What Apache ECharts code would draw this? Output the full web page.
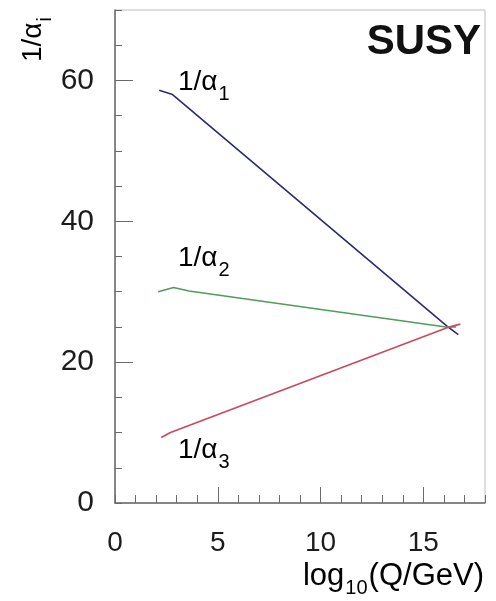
<!DOCTYPE html>
<html>
<head>
<meta charset="utf-8">
<script src="https://cdn.jsdelivr.net/npm/echarts@6/dist/echarts.min.js"></script>
<style>
  html, body { margin: 0; padding: 0; background: #fff; }
  #main { width: 496px; height: 601px; }
</style>
</head>
<body>
<div id="main"></div>
<script>
// values: [log10(Q/GeV), 1/alpha]
var alpha1 = [[2.15, 58.6], [2.8, 58.0], [16.15, 25.1], [16.7, 23.9]]
var alpha2 = [[2.1, 30.0], [2.85, 30.6], [3.6, 30.1], [16.1, 25.0], [16.6, 25.0]]
var alpha3 = [[2.25, 9.3], [2.7, 10.0], [16.15, 24.9], [16.8, 25.4]]

var xLabels = [0, 5, 10, 15]
var xMajorTicks = [5, 10, 15]
var yLabels = [0, 20, 40, 60]
var yMajorTicks = [20, 40, 60]

var FONT = 'Liberation Sans, Arial, sans-serif'
var AXIS_COLOR = '#6a6a6a'
var TEXT_COLOR = '#1c1c1c'

var chart = echarts.init(document.getElementById('main'), null, { renderer: 'canvas' })

// rich text with a subscript
var subRich = {
  m: { fontSize: 28, lineHeight: 28, verticalAlign: 'top', fontFamily: FONT, color: TEXT_COLOR },
  s: { fontSize: 20, lineHeight: 20, verticalAlign: 'top', padding: [16, 0, 0, 1], fontFamily: FONT, color: TEXT_COLOR }
}

function lineSeries(data, color) {
  return {
    type: 'line',
    data: data,
    xAxisIndex: 0,
    yAxisIndex: 0,
    symbol: 'none',
    smooth: false,
    lineStyle: { color: color, width: 1.6 },
    z: 3
  }
}

function curveLabel(x, y, sub) {
  return {
    type: 'text',
    x: x,
    y: y,
    style: {
      text: '{m|1/α}{s|' + sub + '}',
      rich: subRich,
      align: 'left',
      verticalAlign: 'top'
    }
  }
}

var option = {
  backgroundColor: '#fff',
  animation: false,
  grid: {
    left: 115,
    right: 11,
    top: 10,
    bottom: 98,
    show: true,
    borderColor: '#bdbdbd',
    borderWidth: 1,
    containLabel: false,
    outerBoundsMode: 'none'
  },
  xAxis: [
    {
      type: 'value',
      min: 0,
      max: 18,
      interval: 1,
      axisLine: { show: true, onZero: false, lineStyle: { color: AXIS_COLOR, width: 1.5 } },
      axisTick: { show: true, inside: true, length: 8, lineStyle: { color: AXIS_COLOR, width: 1 } },
      axisLabel: {
        customValues: xLabels,
        margin: 26,
        fontSize: 28,
        fontFamily: FONT,
        color: TEXT_COLOR
      },
      splitLine: { show: false }
    },
    {
      type: 'value',
      position: 'bottom',
      min: 0,
      max: 18,
      interval: 5,
      axisLine: { show: false },
      axisTick: { show: true, inside: true, length: 16, customValues: xMajorTicks, lineStyle: { color: AXIS_COLOR, width: 1 } },
      axisLabel: { show: false },
      splitLine: { show: false }
    }
  ],
  yAxis: [
    {
      type: 'value',
      min: 0,
      max: 70,
      interval: 5,
      axisLine: { show: true, onZero: false, lineStyle: { color: AXIS_COLOR, width: 1.5 } },
      axisTick: { show: true, inside: true, length: 7, lineStyle: { color: AXIS_COLOR, width: 1 } },
      axisLabel: {
        customValues: yLabels,
        margin: 21,
        fontSize: 30,
        fontFamily: FONT,
        color: TEXT_COLOR
      },
      splitLine: { show: false }
    },
    {
      type: 'value',
      position: 'left',
      min: 0,
      max: 70,
      interval: 10,
      axisLine: { show: false },
      axisTick: { show: true, inside: true, length: 18, customValues: yMajorTicks, lineStyle: { color: AXIS_COLOR, width: 1 } },
      axisLabel: { show: false },
      splitLine: { show: false }
    }
  ],
  series: [
    lineSeries(alpha1, '#2b2b72'),
    lineSeries(alpha2, '#4f9d5c'),
    lineSeries(alpha3, '#c9485f')
  ],
  graphic: [
    curveLabel(178, 68, '1'),
    curveLabel(178, 244, '2'),
    curveLabel(178, 436, '3'),
    {
      type: 'text',
      x: 481,
      y: 42,
      style: {
        text: 'SUSY',
        font: 'bold 42px ' + FONT,
        fill: '#111',
        align: 'right',
        verticalAlign: 'middle'
      }
    },
    {
      // y axis title, reads bottom to top
      type: 'text',
      x: 19,
      y: 62,
      rotation: Math.PI / 2,
      style: {
        text: '{m|1/α}{s|i}',
        rich: subRich,
        align: 'left',
        verticalAlign: 'top'
      }
    },
    {
      type: 'text',
      x: 484,
      y: 561,
      style: {
        text: '{m|log}{s|10}{m|(Q/GeV)}',
        rich: {
          m: { fontSize: 31, lineHeight: 31, verticalAlign: 'top', fontFamily: FONT, color: TEXT_COLOR },
          s: { fontSize: 20, lineHeight: 20, verticalAlign: 'top', padding: [17, 1, 0, 1], fontFamily: FONT, color: TEXT_COLOR }
        },
        align: 'right',
        verticalAlign: 'top'
      }
    }
  ]
}

chart.setOption(option)
</script>
</body>
</html>
